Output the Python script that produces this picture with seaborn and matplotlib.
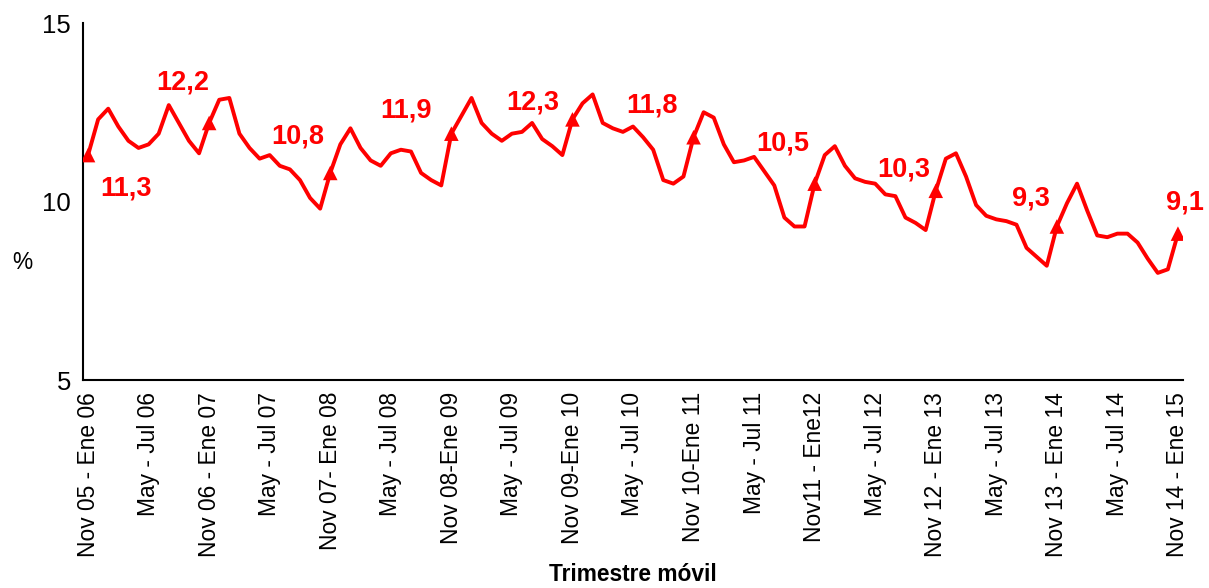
import numpy as np
import pandas as pd
import seaborn as sns
import matplotlib.pyplot as plt

# monthly moving quarters, Nov 05 - Ene 06 ... Nov 14 - Ene 15
periods = list(range(109))
desempleo = [
    11.3, 12.3, 12.6, 12.1, 11.7, 11.5, 11.6, 11.9, 12.7, 12.2, 11.7, 11.35,
    12.2, 12.85, 12.9, 11.9, 11.5, 11.2, 11.3, 11.0, 10.9, 10.6, 10.1, 9.8,
    10.8, 11.6, 12.05, 11.5, 11.15, 11.0, 11.35, 11.45, 11.4, 10.8, 10.6, 10.45,
    11.9, 12.4, 12.9, 12.2, 11.9, 11.7, 11.9, 11.95, 12.2, 11.75, 11.55, 11.3,
    12.3, 12.75, 13.0, 12.2, 12.05, 11.95, 12.1, 11.8, 11.45, 10.6, 10.5, 10.7,
    11.8, 12.5, 12.35, 11.6, 11.1, 11.15, 11.25, 10.85, 10.45, 9.55, 9.3, 9.3,
    10.5, 11.3, 11.55, 11.0, 10.65, 10.55, 10.5, 10.2, 10.15, 9.55, 9.4, 9.2,
    10.3, 11.2, 11.35, 10.7, 9.9, 9.6, 9.5, 9.45, 9.35, 8.7, 8.45, 8.2,
    9.3, 9.95, 10.5, 9.75, 9.05, 9.0, 9.1, 9.1, 8.85, 8.4, 8.0, 8.1,
    9.1,
]
tick_labels = [
    "Nov 05 - Ene 06", "May - Jul 06", "Nov 06 - Ene 07", "May - Jul 07",
    "Nov 07- Ene 08", "May - Jul 08", "Nov 08-Ene 09", "May - Jul 09",
    "Nov 09-Ene 10", "May - Jul 10", "Nov 10-Ene 11", "May - Jul 11",
    "Nov11 - Ene12", "May - Jul 12", "Nov 12 - Ene 13", "May - Jul 13",
    "Nov 13 - Ene 14", "May - Jul 14", "Nov 14 - Ene 15",
]
marked = [0, 12, 24, 36, 48, 60, 72, 84, 96, 108]

df = pd.DataFrame({"periodo": periods, "tasa": desempleo})
df_marks = df.loc[marked]

sns.set_style("white")
plt.rcParams['font.family'] = ['Liberation Sans', 'DejaVu Sans']
plt.rcParams.update({"text.color": "black", "axes.labelcolor": "black",
                     "xtick.color": "black", "ytick.color": "black"})

fig = plt.figure(figsize=(12.09, 5.88), dpi=100)
ax = fig.add_axes([83 / 1209, 1 - 380 / 588, 1100 / 1209, 357 / 588])

sns.lineplot(data=df, x="periodo", y="tasa", color="#ff0000", linewidth=2.8,
             solid_joinstyle="round", solid_capstyle="round", ax=ax)
sns.scatterplot(data=df_marks, x="periodo", y="tasa", marker="^", s=110,
                color="#ff0000", edgecolor="none", zorder=3, ax=ax)

# label offsets in pixels (dx, dy up)
offsets = [(38, -33), (-26, 40), (-32, 36), (-45, 23), (-40, 17),
           (-42, 32), (-32, 40), (-32, 21), (-26, 28), (7, 31)]
for (i, v), (dx, dy) in zip(zip(df_marks["periodo"], df_marks["tasa"]), offsets):
    ax.annotate(f"{v:.1f}".replace(".", ","), (i, v), xytext=(dx * 0.72, dy * 0.72),
                textcoords="offset points", ha="center", va="center",
                fontsize=19.5, fontweight="bold", color="#ff0000",
                annotation_clip=False)

ax.set_xlim(-0.5, 108.5)
ax.set_ylim(5, 15)
ax.set_yticks([5, 10, 15])
ax.set_xticks(list(range(0, 109, 6)))
ax.set_xticklabels(tick_labels, rotation=90, fontsize=16.4, va="top", ha="center")
ax.set_xticks([k - 0.5 for k in range(0, 105, 8)], minor=True)
ax.tick_params(axis="x", which="major", length=0, pad=8.6)
ax.tick_params(axis="x", which="minor", length=4.5, width=1.2, direction="out")
ax.tick_params(axis="y", length=4.5, width=1.2, direction="out",
               labelsize=18.5, pad=4)

for side in ["top", "right"]:
    ax.spines[side].set_visible(False)
for side in ["left", "bottom"]:
    ax.spines[side].set_color("black")
    ax.spines[side].set_linewidth(1.5)

ax.set_xlabel("Trimestre móvil", fontsize=16.4, fontweight="bold")
ax.xaxis.set_label_coords(0.5, -0.512)
ax.set_ylabel("%", rotation=0, fontsize=16.4, va="center", ha="center")
ax.yaxis.set_label_coords(-0.055, 0.33)

fig.savefig("out.png", dpi=100, facecolor="white")
